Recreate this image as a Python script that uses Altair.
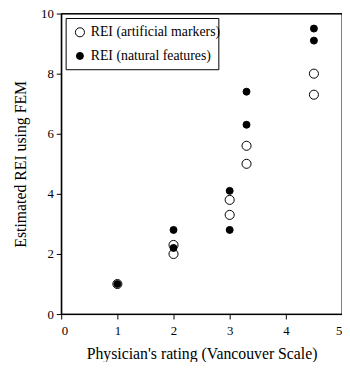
import altair as alt
import pandas as pd

series_names = ["REI (artificial markers)", "REI (natural features)"]
art_x = [1, 2, 2, 3, 3, 3.3, 3.3, 4.5, 4.5]
art_y = [1.0, 2.3, 2.0, 3.3, 3.8, 5.0, 5.6, 7.3, 8.0]
nat_x = [1, 2, 2, 3, 3, 3.3, 3.3, 4.5, 4.5]
nat_y = [1.0, 2.8, 2.2, 2.8, 4.1, 6.3, 7.4, 9.1, 9.5]

rows = []
for x, y in zip(art_x, art_y):
    rows.append({"x": x, "y": y, "series": series_names[0]})
for x, y in zip(nat_x, nat_y):
    rows.append({"x": x, "y": y, "series": series_names[1]})
df = pd.DataFrame(rows)

FONT = "Liberation Serif"
W, H = 285, 305

leg = alt.Legend(title=None, orient="top-left", offset=5,
                 padding=7, rowPadding=10,
                 symbolStrokeColor="black", symbolStrokeWidth=1,
                 labelFont=FONT, labelFontSize=14, labelColor="black",
                 symbolType="circle")

points = alt.Chart(df).mark_point(
    shape="circle", filled=True, strokeWidth=1, opacity=1
).encode(
    x=alt.X("x:Q", scale=alt.Scale(domain=[0, 5], nice=False),
            axis=alt.Axis(title="Physician's rating (Vancouver Scale)", values=[0, 1, 2, 3, 4, 5],
                          grid=False, tickSize=5, labelPadding=6, titlePadding=8)),
    y=alt.Y("y:Q", scale=alt.Scale(domain=[0, 10], nice=False),
            axis=alt.Axis(title="Estimated REI using FEM", values=[0, 2, 4, 6, 8, 10],
                          grid=False, tickSize=5, labelPadding=3, titlePadding=12)),
    fill=alt.Fill("series:N", scale=alt.Scale(domain=series_names, range=["white", "black"]),
                  legend=leg),
    stroke=alt.Stroke("series:N", scale=alt.Scale(domain=series_names, range=["black", "black"]),
                      legend=leg),
    size=alt.Size("series:N", scale=alt.Scale(domain=series_names, range=[85, 50]), legend=leg),
    order=alt.Order("series:N"),
)

frame_df = pd.DataFrame({"k": [0]})
view_frame = alt.Chart(frame_df).mark_rect(
    fillOpacity=0, stroke="black", strokeWidth=1
).encode(x=alt.value(0), x2=alt.value(W), y=alt.value(0), y2=alt.value(H))

legend_frame = alt.Chart(frame_df).mark_rect(
    fillOpacity=0, stroke="black", strokeWidth=1
).encode(x=alt.value(5), x2=alt.value(160), y=alt.value(5), y2=alt.value(57))

chart = alt.layer(view_frame, legend_frame, points).properties(
    width=W, height=H,
    autosize=alt.AutoSizeParams(type="none"),
    padding={"left": 54, "top": 3, "right": 0, "bottom": 46},
    background="white",
).configure_view(
    stroke="black", strokeWidth=1
).configure_axis(
    domainColor="black", tickColor="black", labelColor="black", titleColor="black",
    labelFont=FONT, titleFont=FONT, labelFontSize=13, titleFontSize=16,
    titleFontWeight="normal", domainWidth=1, tickWidth=1
)

chart.save("out.html", embed_options={"renderer": "svg", "actions": False})
